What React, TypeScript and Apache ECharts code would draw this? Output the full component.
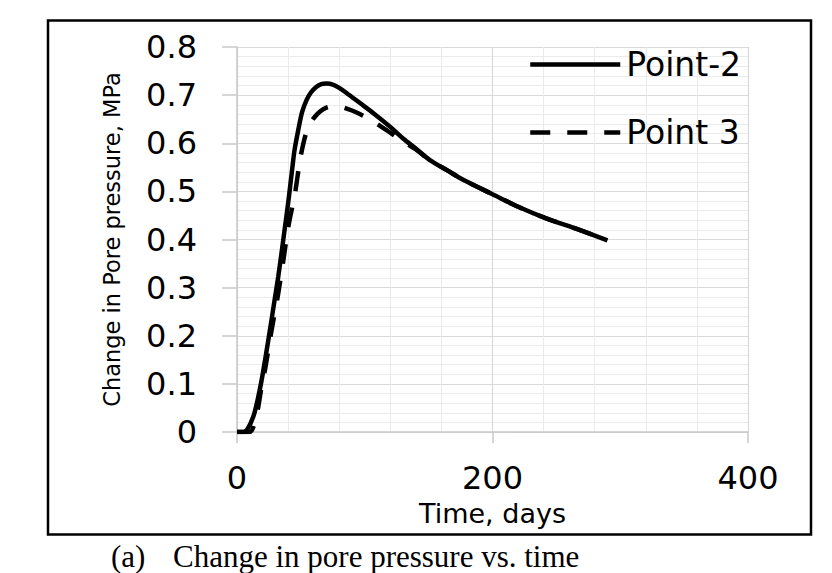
import React, { useEffect, useRef } from "react";
import * as echarts from "echarts";

// Point-2 (solid) : time in days, change in pore pressure in MPa
const point2Days = [0, 5, 8, 12.8, 16, 19.3, 22, 25.8, 29, 32.3, 35, 37.6, 40, 42.8, 45, 48, 51, 54.5, 58, 62, 66, 70, 75, 80, 86, 96, 107, 120, 130, 140, 151, 165, 177, 190, 200, 221, 242, 268, 290];
const point2Values = [0, 0, 0.005, 0.032, 0.065, 0.108, 0.15, 0.212, 0.267, 0.323, 0.375, 0.427, 0.475, 0.537, 0.585, 0.628, 0.665, 0.69, 0.706, 0.717, 0.723, 0.724, 0.722, 0.715, 0.704, 0.684, 0.662, 0.634, 0.61, 0.589, 0.565, 0.543, 0.524, 0.507, 0.494, 0.467, 0.444, 0.42, 0.398];

// Point 3 (dashed)
const point3Days = [0, 10, 14, 16.7, 19, 21.9, 24.5, 27.1, 32.3, 36.3, 40.2, 45.4, 49.3, 52, 54.5, 57, 60, 65, 70, 76, 81, 90, 99, 105, 112, 120, 128, 140, 151, 165, 177, 190, 200, 221, 242, 268, 290];
const point3Values = [0, 0, 0.02, 0.053, 0.09, 0.129, 0.17, 0.212, 0.288, 0.357, 0.427, 0.496, 0.565, 0.6, 0.625, 0.64, 0.652, 0.666, 0.674, 0.677, 0.676, 0.668, 0.657, 0.648, 0.636, 0.622, 0.607, 0.587, 0.565, 0.543, 0.524, 0.507, 0.494, 0.467, 0.444, 0.42, 0.398];

const seriesNames = ["Point-2", "Point 3"];
const xAxisTitle = "Time, days";
const yAxisTitle = "Change in Pore pressure, MPa";
const captionLabel = "(a)";
const captionText = "Change in pore pressure vs. time";

const pairs = (xs: number[], ys: number[]) => xs.map((x, i) => [x, ys[i]]);

export default function App() {
  const ref = useRef<HTMLDivElement>(null);
  useEffect(() => {
    if (!ref.current) return;
    const chart = echarts.init(ref.current, null, { renderer: "svg" });
    const sans = "DejaVu Sans";
    const dash = [20, 17];
    chart.setOption({
      animation: false,
      backgroundColor: "#ffffff",
      grid: { left: 237, right: 84, top: 47, bottom: 141, containLabel: false },
      legend: {
        orient: "vertical",
        left: 523,
        top: 43,
        itemWidth: 90,
        itemHeight: 30,
        itemGap: 35,
        selectedMode: false,
        itemStyle: { opacity: 0 },
        textStyle: { fontFamily: sans, fontSize: 33, color: "#000", padding: [0, 0, 0, 1] },
        data: [
          { name: seriesNames[0], lineStyle: { width: 4.5, type: "solid", color: "#000" } },
          { name: seriesNames[1], lineStyle: { width: 4.5, type: dash, color: "#000" } },
        ],
      },
      xAxis: {
        type: "value",
        min: 0,
        max: 400,
        interval: 200,
        name: xAxisTitle,
        nameLocation: "middle",
        nameGap: 68,
        nameTextStyle: { fontFamily: sans, fontSize: 27, color: "#000" },
        axisLine: { show: true, lineStyle: { color: "#c8c8c8", width: 1.5 } },
        axisTick: { show: true, length: 11, lineStyle: { color: "#c8c8c8", width: 1.5 } },
        axisLabel: { margin: 30, fontFamily: sans, fontSize: 32, color: "#000" },
        splitLine: { show: true, lineStyle: { color: "#d9d9d9", width: 1.2 } },
        minorTick: { show: false, splitNumber: 5 },
        minorSplitLine: { show: true, lineStyle: { color: "#ebebeb", width: 1 } },
      },
      yAxis: {
        type: "value",
        min: 0,
        max: 0.8,
        interval: 0.1,
        name: yAxisTitle,
        nameLocation: "middle",
        nameGap: 114,
        nameTextStyle: { fontFamily: sans, fontSize: 22.5, color: "#000" },
        axisLine: { show: true, lineStyle: { color: "#c8c8c8", width: 1.5 } },
        axisTick: { show: true, length: 15, lineStyle: { color: "#c8c8c8", width: 1.5 } },
        axisLabel: { margin: 40, fontFamily: sans, fontSize: 32, color: "#000" },
        splitLine: { show: true, lineStyle: { color: "#d9d9d9", width: 1.2 } },
        minorTick: { show: false, splitNumber: 5 },
        minorSplitLine: { show: true, lineStyle: { color: "#ebebeb", width: 1 } },
      },
      series: [
        {
          name: seriesNames[0],
          type: "line",
          data: pairs(point2Days, point2Values),
          symbol: "none",
          smooth: 0.3,
          lineStyle: { color: "#000", width: 4.5, type: "solid" },
          itemStyle: { color: "#000" },
          z: 3,
        },
        {
          name: seriesNames[1],
          type: "line",
          data: pairs(point3Days, point3Values),
          symbol: "none",
          smooth: 0.3,
          lineStyle: { color: "#000", width: 4.5, type: dash },
          itemStyle: { color: "#000" },
          z: 4,
        },
      ],
      graphic: [
        {
          type: "rect",
          shape: { x: 48, y: 20.5, width: 763, height: 514 },
          style: { fill: "none", stroke: "#000", lineWidth: 2.5 },
          z: 10,
          silent: true,
        },
        {
          type: "text",
          x: 111,
          y: 556,
          style: {
            text: captionLabel,
            font: "31px 'Liberation Serif'",
            fill: "#000",
            textAlign: "left",
            textVerticalAlign: "middle",
          },
        },
        {
          type: "text",
          x: 173,
          y: 556,
          style: {
            text: captionText,
            font: "31px 'Liberation Serif'",
            fill: "#000",
            textAlign: "left",
            textVerticalAlign: "middle",
          },
        },
      ],
    });
    return () => chart.dispose();
  }, []);
  return (
    <div
      ref={ref}
      style={{ position: "fixed", left: 0, top: 0, width: 832, height: 573, background: "#fff" }}
    />
  );
}
